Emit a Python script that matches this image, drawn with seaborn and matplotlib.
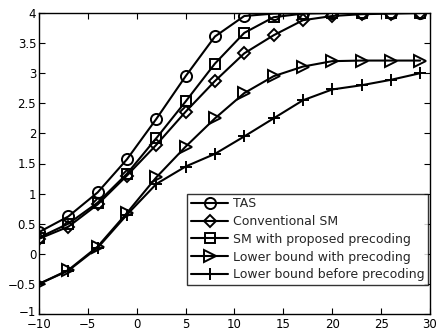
import matplotlib
matplotlib.use("Agg")
import matplotlib.pyplot as plt
import matplotlib.transforms as mtransforms
import seaborn as sns
import pandas as pd

snr = [-10, -7, -4, -1, 2, 5, 8, 11, 14, 17, 20, 23, 26, 29]
tas = [0.36, 0.62, 1.02, 1.57, 2.24, 2.95, 3.61, 3.95, 3.99, 4.0, 4.0, 4.0, 4.0, 4.0]
conv_sm = [0.25, 0.45, 0.82, 1.30, 1.81, 2.36, 2.87, 3.33, 3.63, 3.88, 3.95, 3.98, 3.99, 4.0]
sm_prec = [0.27, 0.50, 0.85, 1.33, 1.92, 2.53, 3.16, 3.67, 3.93, 3.99, 4.0, 4.0, 4.0, 4.0]
lb_with = [-0.50, -0.27, 0.12, 0.68, 1.27, 1.78, 2.25, 2.67, 2.95, 3.11, 3.20, 3.21, 3.21, 3.21]
lb_before = [-0.50, -0.28, 0.10, 0.65, 1.16, 1.45, 1.66, 1.95, 2.25, 2.55, 2.73, 2.80, 2.89, 3.00]

labels = ["TAS", "Conventional SM", "SM with proposed precoding",
          "Lower bound with precoding", "Lower bound before precoding"]
series = [tas, conv_sm, sm_prec, lb_with, lb_before]
markers = ["o", "D", "s", ">", "+"]
msizes = [8, 6.5, 6.5, 8, 9]

sns.set_style("ticks")
plt.rcParams['font.family'] = ['DejaVu Sans']

fig = plt.figure(figsize=(4.39, 3.31), dpi=100)
ax = fig.add_axes([39/439, 17/331, 391/439, 301/331])

for lab, vals, mk, ms in zip(labels, series, markers, msizes):
    df = pd.DataFrame({"snr": snr, "val": vals})
    sns.lineplot(data=df, x="snr", y="val", ax=ax, color="black", lw=1.5,
                 marker=mk, markersize=ms, mfc="none", mec="black", mew=1.4,
                 label=lab)

ax.set_xlim(-10, 30)
ax.set_ylim(-1, 4)
ax.set_xticks([-10, -5, 0, 5, 10, 15, 20, 25, 30])
ax.set_yticks([-1, -0.5, 0, 0.5, 1, 1.5, 2, 2.5, 3, 3.5, 4])
ax.set_xticklabels(["\u221210", "\u22125", "0", "5", "10", "15", "20", "25", "30"])
ax.set_yticklabels(["\u22121", "\u22120.5", "0", "0.5", "1", "1.5", "2", "2.5", "3", "3.5", "4"])
ax.set_xlabel("")
ax.set_ylabel("")
ax.tick_params(direction="in", top=True, right=True, length=4, width=0.8,
               labelsize=8.5, colors="black")
ax.tick_params(axis="x", pad=3)
ax.tick_params(axis="y", pad=2)
for s in ax.spines.values():
    s.set_visible(True)
    s.set_color("black")
    s.set_linewidth(1.0)

# nudge the "-1" label up slightly so it does not collide with "-10"
lbl = ax.get_yticklabels()[0]
lbl.set_transform(lbl.get_transform() + mtransforms.ScaledTranslation(0, 3/100, fig.dpi_scale_trans))

leg = ax.legend(loc="lower right", bbox_to_anchor=(0.995, 0.096), borderaxespad=0,
                fontsize=9, frameon=True, fancybox=False, edgecolor="black",
                handlelength=3.0, labelspacing=0.38, handletextpad=0.35,
                borderpad=0.3)
leg.get_frame().set_linewidth(1.0)

fig.savefig("out.png", dpi=100)
